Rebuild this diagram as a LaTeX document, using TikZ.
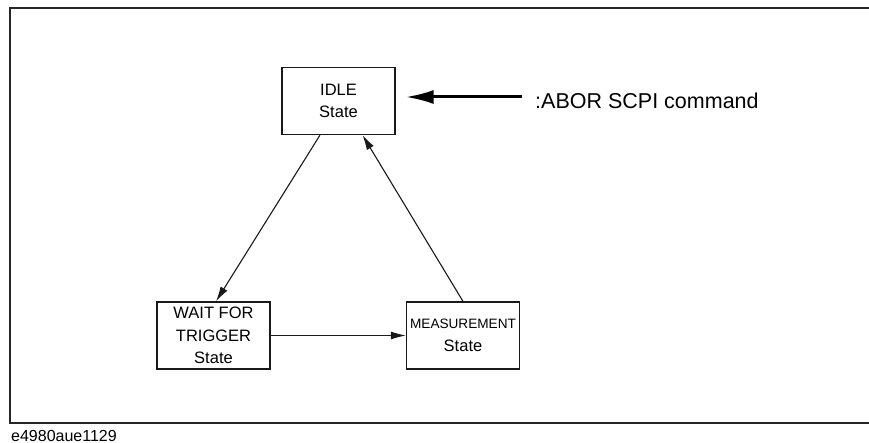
\documentclass[tikz,border=0pt]{standalone}
\usepackage{fontspec}
\setmainfont{Liberation Sans}
\usetikzlibrary{arrows.meta}
\begin{document}
\begin{tikzpicture}[x=1pt,y=-1pt,
  statebox/.style={draw=black!90,line width=1.2pt,minimum width=113pt,minimum height=67pt,inner sep=0pt,align=center,font=\fontsize{16.5}{22.5}\selectfont},
  conn/.style={draw=black!90,line width=1.1pt,-{Latex[length=15pt,width=8pt]}},
  bigarrow/.style={draw=black,line width=3pt,-{Latex[length=28pt,width=14pt]}}]
\useasboundingbox (0,0) rectangle (869,443);
\clip (0,0) rectangle (869,443);
\draw[line width=2.6pt,draw=black!85] (10,8) rectangle (880,423);
\node[statebox] (idle) at (338.5,101) {IDLE\\State};
\node[statebox] (wait) at (213.5,335.5) {WAIT FOR\\TRIGGER\\State};
\node[statebox] (meas) at (463,335.5) {{\fontsize{13.6}{22.5}\selectfont MEASUREMENT}\\State};
\node[anchor=west,inner sep=0pt,font=\fontsize{21.5}{24}\selectfont] (abor) at (535,101) {:ABOR SCPI command};
\node[anchor=base west,inner sep=0pt,font=\fontsize{16}{18}\selectfont] (cap) at (11,441) {e4980aue1129};
\draw[bigarrow] ([xshift=-13pt,yshift=4pt]abor.west) -- ([xshift=10pt,yshift=4pt]abor.west -| idle.east);
\draw[conn] ([xshift=-18.5pt]idle.south) -- ([xshift=2.5pt]wait.north);
\draw[conn] (wait.east) -- (meas.west);
\draw[conn] (meas.north) -- ([xshift=24pt]idle.south);
\end{tikzpicture}
\end{document}
